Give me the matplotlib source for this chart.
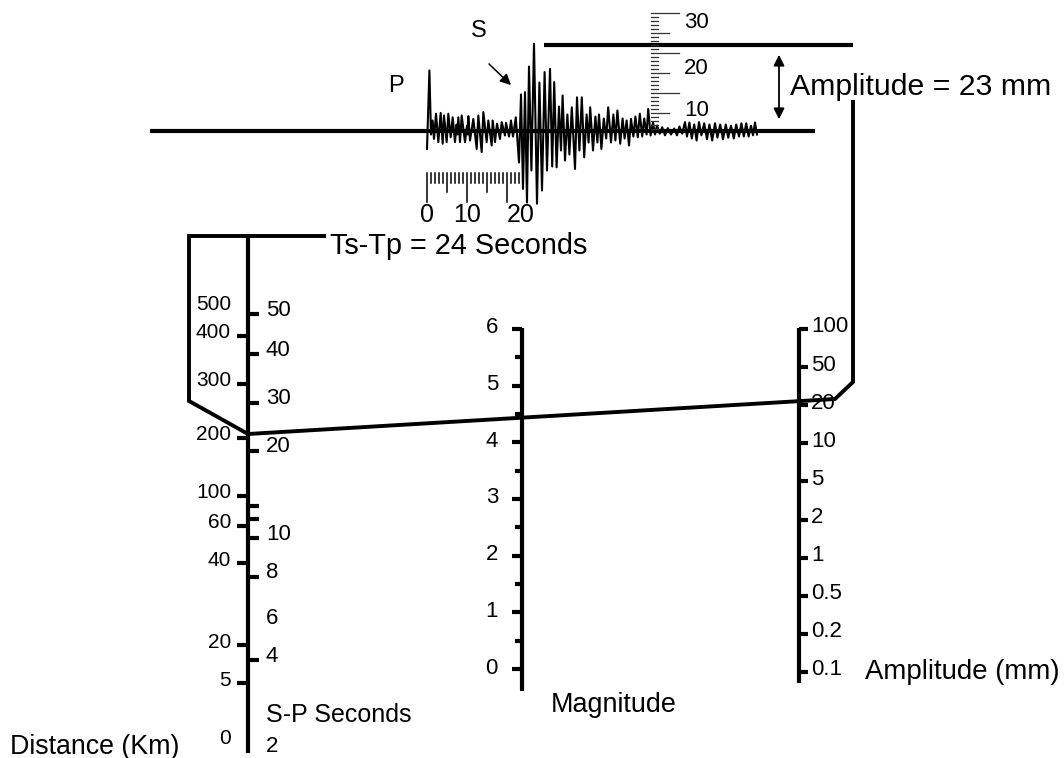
import matplotlib
matplotlib.use("Agg")
import matplotlib.pyplot as plt
import numpy as np

plt.rcParams['font.family'] = ['Liberation Sans', 'DejaVu Sans']

# seismogram trace: time (s) and amplitude (mm), read from the record
trace_t = [0.0, 0.6, 1.0, 1.4, 1.75, 2.25, 2.83, 3.42, 3.92, 4.25, 4.92, 5.33, 5.92, 6.42,
           7.0, 7.4, 7.6, 7.83, 8.25, 8.67, 9.5, 10.0, 10.2, 10.33, 10.75, 11.58, 12.42,
           12.83, 13.67, 14.08, 14.92, 15.33, 16.17, 16.42, 17.0, 17.5, 18.25, 18.67,
           19.5, 19.75, 20.5, 21.0, 21.5, 22.2,
           23.0, 23.5, 24.0, 24.5, 25.0, 25.5, 26.1, 26.75, 27.5, 28.1, 28.75, 29.4, 30.0,
           30.75, 31.3, 31.8, 32.4, 33.0, 33.5, 33.9, 34.5, 35.1, 35.6, 36.2, 37.0, 37.5,
           38.1, 38.7, 39.3, 39.9, 40.4, 40.8, 41.5, 42.1, 42.6, 43.0, 43.6, 44.2, 44.8,
           45.3, 46.0, 46.6, 47.1, 47.6, 48.3, 48.9, 49.4, 49.9, 50.5, 51.0, 51.6, 52.1,
           52.7, 53.2, 53.8, 54.3, 54.9, 55.3, 55.9, 56.5, 57.0, 57.5, 58.2, 58.8, 59.5,
           60.2, 61.0, 61.8, 62.5, 63.1, 63.8, 64.5, 65.0, 65.6, 66.2, 66.8, 67.4, 68.0,
           68.6, 69.3, 70.0, 70.6, 71.3, 72.0, 72.6, 73.3, 74.0, 74.7, 75.3, 76.0, 76.7,
           77.3, 78.0, 78.6, 79.2, 79.8, 80.4, 81.0, 81.5, 82.0, 82.5]
trace_a = [-4.6, 15.0, -1.0, 2.5, -2.1, 4.2, -2.9, 4.4, -3.3, 3.75, -2.9, 4.2, -1.7, 3.3,
           -2.9, 1.5, -1.0, 3.3, -2.9, 3.75, -2.9, 1.2, -1.0, 3.6, -2.5, 2.9, -4.6,
           3.75, -5.4, 4.6, -2.9, 2.5, -3.75, 2.5, -2.9, 1.7, -2.1, 2.1,
           -1.25, 1.9, -1.5, 2.5, -1.5, 3.3,
           -8, 9, -14.6, 9.6, -18, 16, -10, 21.7, -18.3, 12, -15, 14.6, -10,
           15.4, -9, 12.1, -9.2, 6, -5, 8.75, -7.5, 4, -6, 5.8, -9.6, 8.3,
           -5, 8.3, -6.7, 4, -3, 5.8, -5, 3.5, -3, 4, -4.6, 3, -2,
           5.8, -3, 4, -2.5, 5, -3.3, 3, -2, 2.5, -3.75, 2.9, -1.5, 3.5,
           -1.7, 4.2, -1.5, 3, -1, 5.4, -1.25, 2, -1, 1.25, -0.8, 0.8, -1.2,
           0.6, -1.0, 0.5, -1.2, 1, -0.8, 2.1, -1.5, 2, -2, 1.5, -2.5, 2.1,
           -1.2, 1.8, -2.2, 1.5, -2.5, 1.8, -1.8, 1.5, -2.2, 1.5, -1.8, 1.2, -2,
           1.5, -1.5, 1.8, -1.5, 1.8, -1.5, 1.2, -1.2, 2, -1]

time_labels = ['0', '10', '20']
amp_scale_labels = ['10', '20', '30']

distance_labels = ['500', '400', '300', '200', '100', '60', '40', '20', '5', '0']
distance_ticked = [False, True, True, True, True, True, True, True, True, False]
sp_labels = ['50', '40', '30', '20', '', '', '10', '8', '6', '4', '2']
sp_ticked = [True, True, True, True, True, True, True, True, False, True, False]

magnitude = [0, 1, 2, 3, 4, 5, 6]
amplitude_labels = ['100', '50', '20', '10', '5', '2', '1', '0.5', '0.2', '0.1']

# ---- layout (pixel space of the drawing) ----
distance_y = [307, 336, 384, 438, 496, 526, 563, 645, 683, 742]
sp_y = [314, 354, 403, 451, 506, 519, 538, 577, 619, 660, 747]
LEFT_X = 248
MAG_X, MAG_Y0, MAG_STEP = 522, 669, 56.67
AMP_X, AMP_TOP, AMP_STEP = 799, 329, 38.1
T0_X, PX = 427, 4.0          # seismogram: px per second / per mm
BASE_Y = 130.5

fig = plt.figure(figsize=(10.64, 7.58), dpi=100)
ax = fig.add_axes([0, 0, 1, 1])
ax.set_xlim(0, 1064)
ax.set_ylim(758, 0)
ax.axis('off')

K = 'black'
LW = 3.0

def sx(t):
    return T0_X + PX * np.asarray(t)

def sy(a):
    return BASE_Y - PX * np.asarray(a)

# seismogram
ax.plot([150, 815], [BASE_Y, BASE_Y], color=K, lw=3.0, solid_capstyle='butt')
ax.plot(sx(trace_t), sy(trace_a), color=K, lw=1.5)
ax.plot([544, 853], [45, 45], color=K, lw=3.0, solid_capstyle='butt')

# time scale under the record
for s in range(0, 24):
    if s % 10 == 0:
        y2 = 202
    elif s % 5 == 0:
        y2 = 192
    else:
        y2 = 183
    ax.plot([sx(s), sx(s)], [173, y2], color=K, lw=1.1)
for lab, pos in zip(time_labels, [0, 10, 23.3]):
    ax.text(sx(pos), 215, lab, ha='center', va='center', fontsize=18)

# amplitude ruler on the record
for v in range(1, 31):
    if v % 10 == 0:
        x2 = 679
    elif v % 5 == 0:
        x2 = 669
    else:
        x2 = 658
    yy = 133 - PX * v
    ax.plot([651, x2], [yy, yy], color='#333333', lw=0.9)
for lab, yy in zip(amp_scale_labels, [110, 68, 22]):
    ax.text(684, yy, lab, ha='left', va='center', fontsize=16)

ax.annotate('', xy=(779, 52), xytext=(779, 122),
            arrowprops=dict(arrowstyle='<|-|>', color=K, lw=1.3, mutation_scale=16))
ax.annotate('', xy=(513, 87), xytext=(487, 62),
            arrowprops=dict(arrowstyle='-|>', color=K, lw=1.1, mutation_scale=16))
ax.text(396, 86, 'P', ha='center', va='center', fontsize=17)
ax.text(479, 31, 'S', ha='center', va='center', fontsize=17)
ax.text(790, 87, 'Amplitude = 23 mm', ha='left', va='center', fontsize=21.8)
ax.text(330, 246, 'Ts-Tp = 24 Seconds', ha='left', va='center', fontsize=20.8)

# left scale: distance / S-P seconds
ax.plot([LEFT_X, LEFT_X], [237, 753], color=K, lw=LW, solid_capstyle='butt')
for lab, yy, tk in zip(distance_labels, distance_y, distance_ticked):
    if tk:
        ax.plot([237, LEFT_X], [yy, yy], color=K, lw=LW, solid_capstyle='butt')
    ax.text(231, yy - 3, lab, ha='right', va='center', fontsize=15)
for lab, yy, tk in zip(sp_labels, sp_y, sp_ticked):
    if tk:
        ax.plot([LEFT_X, 259], [yy, yy], color=K, lw=LW, solid_capstyle='butt')
    if lab:
        ax.text(266, yy - 4 if tk else yy, lab, ha='left', va='center', fontsize=16)
ax.text(10, 747, 'Distance (Km)', ha='left', va='center', fontsize=19.3)
ax.text(266, 715, 'S-P Seconds', ha='left', va='center', fontsize=18)

# magnitude scale
ax.plot([MAG_X, MAG_X], [328, 691], color=K, lw=LW, solid_capstyle='butt')
for h in range(0, 13):
    m = h / 2
    yy = MAG_Y0 - MAG_STEP * m
    x1 = 512 if h % 2 == 0 else 515
    ax.plot([x1, MAG_X], [yy, yy], color=K, lw=LW, solid_capstyle='butt')
for m in magnitude:
    ax.text(498, MAG_Y0 - MAG_STEP * m - 1, str(m), ha='right', va='center', fontsize=16)
ax.text(614, 705, 'Magnitude', ha='center', va='center', fontsize=19.4)

# amplitude scale
ax.plot([AMP_X, AMP_X], [328, 683], color=K, lw=LW, solid_capstyle='butt')
for i, lab in enumerate(amplitude_labels):
    yy = AMP_TOP + AMP_STEP * i
    ax.plot([AMP_X, 808], [yy, yy], color=K, lw=LW, solid_capstyle='butt')
    ax.text(811, yy - 2, lab, ha='left', va='center', fontsize=16)
ax.text(865, 672, 'Amplitude (mm)', ha='left', va='center', fontsize=19.9)

# construction lines of the nomogram
ax.plot([326, 189, 189, 248, 835, 853, 853],
        [236, 236, 401, 434, 399, 382, 100],
        color=K, lw=2.8, solid_joinstyle='miter', solid_capstyle='butt')

fig.savefig('out.png', dpi=100)
